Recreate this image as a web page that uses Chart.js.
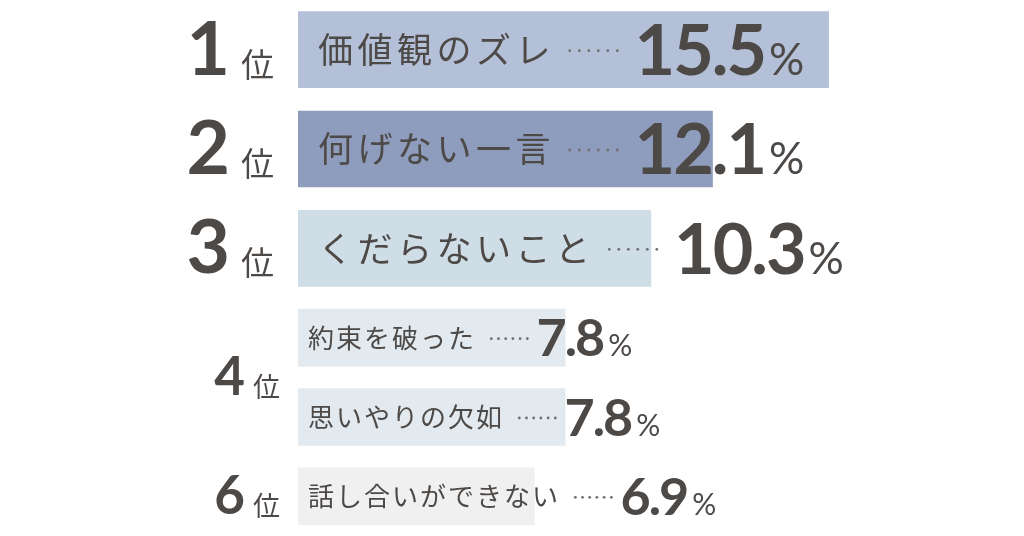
<!DOCTYPE html>
<html lang="ja">
<head>
<meta charset="utf-8">
<script src="https://cdn.jsdelivr.net/npm/chart.js@4/dist/chart.umd.min.js"></script>
<style>
  body { margin: 0; background: #fff; }
  .box { position: relative; width: 1024px; }
</style>
</head>
<body>
<div class="box" style="height:298px"><canvas id="topChart"></canvas></div>
<div class="box" style="height:238px"><canvas id="bottomChart"></canvas></div>
<script>
// ranking data
const ranks = [1, 2, 3, 4, 4, 6];
const reasons = ['価値観のズレ', '何げない一言', 'くだらないこと', '約束を破った', '思いやりの欠如', '話し合いができない'];
const percents = [15.5, 12.1, 10.3, 7.8, 7.8, 6.9];
const barColors = ['#b4c0d7', '#8e9cbd', '#cfdde6', '#e2eaef', '#e2eaef', '#f0f0f0'];

const xMax = Math.max(...percents);
const textColor = '#4d4947';
const jpFont = '"Noto Sans CJK JP", "Noto Sans", sans-serif';
const numFont = 'Lato, "Noto Sans", sans-serif';

const bigStyle = {
  thickness: 76, labelSize: 35, labelSpacing: 4.5, labelPad: 20,
  dotGap: 18, dotStep: 9.5, valueGap: 16, valueSize: 70, valueSpacing: -2,
  pctGap: 2, pctSize: 44, rankSize: 75, rankRight: 230, unitLeft: 241, unitSize: 33, rankDrop: 25
};
const smallStyle = {
  thickness: 57, labelSize: 26, labelSpacing: 2, labelPad: 10,
  dotGap: 16, dotStep: 7.2, valueGap: 8, valueSize: 52, valueSpacing: -2,
  pctGap: 3, pctSize: 30, rankSize: 53, rankRight: 245, unitLeft: 253, unitSize: 27, rankDrop: 18
};

const labelPlugin = {
  id: 'rankLabels',
  afterDatasetsDraw(chart) {
    const ctx = chart.ctx;
    const st = chart.options.plugins.rankLabels.style;
    const rk = chart.options.plugins.rankLabels.ranks;
    const meta = chart.getDatasetMeta(0);
    const done = {};
    ctx.save();
    meta.data.forEach((bar, i) => {
      const y = bar.y;
      const left = bar.base;
      // reason text
      ctx.fillStyle = textColor;
      ctx.font = '400 ' + st.labelSize + 'px ' + jpFont;
      ctx.letterSpacing = st.labelSpacing + 'px';
      ctx.textBaseline = 'middle';
      ctx.textAlign = 'left';
      const label = chart.data.labels[i];
      ctx.fillText(label, left + st.labelPad, y);
      let x = left + st.labelPad + ctx.measureText(label).width - st.labelSpacing;
      // leader dots
      x += st.dotGap;
      ctx.fillStyle = '#6f6f6f';
      for (let d = 0; d < 6; d++) {
        ctx.beginPath();
        ctx.arc(x + d * st.dotStep + 1.3, y + 1, 1.4, 0, Math.PI * 2);
        ctx.fill();
      }
      x += 5 * st.dotStep + 2.6 + st.valueGap;
      // value
      const val = chart.data.datasets[0].data[i].toFixed(1);
      ctx.fillStyle = textColor;
      ctx.textBaseline = 'alphabetic';
      ctx.font = '700 ' + st.valueSize + 'px ' + numFont;
      ctx.letterSpacing = st.valueSpacing + 'px';
      const base = y + st.valueSize * 0.36;
      ctx.fillText(val, x, base);
      x += ctx.measureText(val).width - st.valueSpacing + st.pctGap;
      ctx.font = '400 ' + st.pctSize + 'px ' + numFont;
      ctx.letterSpacing = '0px';
      ctx.fillText('%', x, base);

      // rank (drawn once for tied ranks)
      const r = rk[i];
      if (!done[r]) {
        done[r] = true;
        const ys = meta.data.filter((b, j) => rk[j] === r).map(b => b.y);
        const cy = ys.reduce((a, b) => a + b, 0) / ys.length;
        const rb = cy + st.rankDrop;
        ctx.font = '700 ' + st.rankSize + 'px ' + numFont;
        ctx.textAlign = 'right';
        ctx.fillText(String(r), st.rankRight, rb);
        ctx.font = '400 ' + st.unitSize + 'px ' + jpFont;
        ctx.textAlign = 'left';
        ctx.fillText('位', st.unitLeft, rb + 2);
      }
    });
    ctx.restore();
  }
};

function makeChart(id, from, to, style) {
  return new Chart(document.getElementById(id), {
    type: 'bar',
    data: {
      labels: reasons.slice(from, to),
      datasets: [{
        data: percents.slice(from, to),
        backgroundColor: barColors.slice(from, to),
        borderWidth: 0,
        barThickness: style.thickness
      }]
    },
    options: {
      indexAxis: 'y',
      responsive: true,
      maintainAspectRatio: false,
      animation: false,
      layout: { padding: { left: 298, right: 195, top: 0, bottom: 0 } },
      scales: {
        x: { display: false, min: 0, max: xMax },
        y: { display: false }
      },
      plugins: {
        legend: { display: false },
        tooltip: { enabled: false },
        rankLabels: { style: style, ranks: ranks.slice(from, to) }
      }
    },
    plugins: [labelPlugin]
  });
}

makeChart('topChart', 0, 3, bigStyle);
makeChart('bottomChart', 3, 6, smallStyle);
</script>
</body>
</html>
